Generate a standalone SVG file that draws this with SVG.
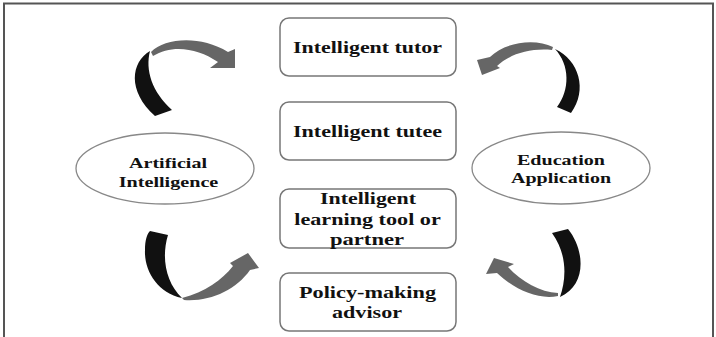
<svg xmlns="http://www.w3.org/2000/svg" width="716" height="337" viewBox="0 0 716 337">
<style>
.frame{fill:none;stroke:#555;stroke-width:2}
.box{fill:#fff;stroke:#777;stroke-width:1.5}
.ell{fill:#fff;stroke:#888;stroke-width:1.3}
.t{font-family:"Liberation Serif","Times New Roman",serif;font-weight:bold;font-size:16.5px;fill:#111;text-anchor:middle}
.te{font-size:15.5px}
.blk{fill:#111}
.gry{fill:#666}
</style>
<rect width="716" height="337" fill="#fff"/>
<path class="frame" d="M4,337 V3.5 H713 V337"/>
<g id="connectors">
  <g id="arrow-top-left">
    <path class="blk" d="M150,51 C131,62 127,91 155,116 L172,110 C152,92 145,70 150,51 Z"/>
    <path class="gry" d="M151,52 C165,38 200,35 228,52 L235,49 L235,68 L210,68 L218,62 C198,48 172,44 153,56 Z"/>
  </g>
  <g id="arrow-top-right">
    <path class="blk" d="M555,49 C579,60 588,90 571,113 L557,107 C570,90 570,65 555,49 Z"/>
    <path class="gry" d="M553,47 C535,38 505,42 490,57 L477,60 L482,75 L500,68 L497,66 C510,54 530,48 552,50 Z"/>
  </g>
  <g id="arrow-bottom-left">
    <path class="blk" d="M150,231 L168,235 C161,258 166,283 182,298 C157,293 144,270 145,250 C145,240 147,234 150,231 Z"/>
    <path class="gry" d="M182,298 C205,292 222,280 233,266 L230,263 L248,253 L259,268 L250,270 C236,290 210,302 184,300 Z"/>
  </g>
  <g id="arrow-bottom-right">
    <path class="blk" d="M552,233 L568,229 C585,250 587,285 560,297 C566,280 568,255 552,233 Z"/>
    <path class="gry" d="M558,296 C538,300 515,290 497,273 L486,274 L494,258 L514,264 L508,267 C522,282 540,292 558,293 Z"/>
  </g>
</g>
<g id="node-tutor">
  <rect class="box" x="280" y="18" width="176" height="58" rx="9"/>
  <text class="t" x="367.5" y="52.5" textLength="149" lengthAdjust="spacingAndGlyphs">Intelligent tutor</text>
</g>
<g id="node-tutee">
  <rect class="box" x="280" y="102" width="176" height="58" rx="9"/>
  <text class="t" x="367.5" y="136.5" textLength="149" lengthAdjust="spacingAndGlyphs">Intelligent tutee</text>
</g>
<g id="node-learning">
  <rect class="box" x="280" y="189" width="176" height="59" rx="9"/>
  <text class="t" x="368" y="203.5" textLength="96" lengthAdjust="spacingAndGlyphs">Intelligent</text>
  <text class="t" x="367.5" y="224.5" textLength="146.5" lengthAdjust="spacingAndGlyphs">learning tool or</text>
  <text class="t" x="367" y="244.5" textLength="74" lengthAdjust="spacingAndGlyphs">partner</text>
</g>
<g id="node-policy">
  <rect class="box" x="280" y="273" width="176" height="58" rx="9"/>
  <text class="t" x="367.5" y="297.5" textLength="137" lengthAdjust="spacingAndGlyphs">Policy-making</text>
  <text class="t" x="367" y="318" textLength="70" lengthAdjust="spacingAndGlyphs">advisor</text>
</g>
<g id="node-ai">
  <ellipse class="ell" cx="165" cy="168.5" rx="89" ry="35.5"/>
  <text class="t te" x="168" y="168" textLength="78" lengthAdjust="spacingAndGlyphs">Artificial</text>
  <text class="t te" x="168.5" y="186.5" textLength="99.5" lengthAdjust="spacingAndGlyphs">Intelligence</text>
</g>
<g id="node-edu">
  <ellipse class="ell" cx="561" cy="168" rx="89" ry="36"/>
  <text class="t te" x="561" y="165" textLength="88" lengthAdjust="spacingAndGlyphs">Education</text>
  <text class="t te" x="561" y="183" textLength="100" lengthAdjust="spacingAndGlyphs">Application</text>
</g>
</svg>
